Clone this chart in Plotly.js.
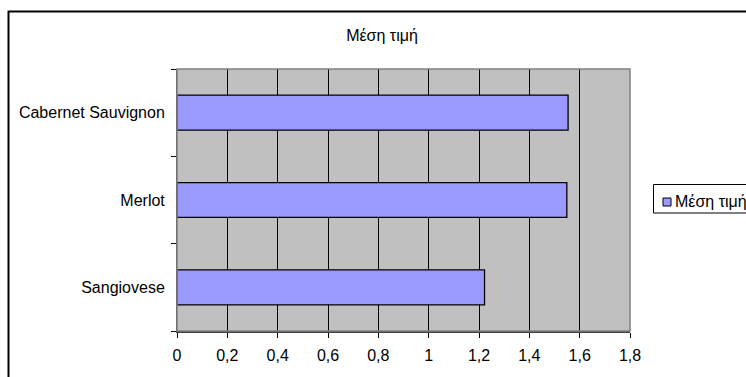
<!DOCTYPE html>
<html>
<head>
<meta charset="utf-8">
<script src="https://cdn.plot.ly/plotly-3.0.1.min.js"></script>
<style>html,body{margin:0;padding:0;background:#fff;}#chart{width:746px;height:377px;}</style>
</head>
<body>
<div id="chart"></div>
<script>
// Data (bottom-to-top order for horizontal bars)
const categories = ['Sangiovese', 'Merlot', 'Cabernet Sauvignon'];
const values = [1.222, 1.549, 1.554];
const seriesName = 'Μέση τιμή';
const chartTitle = 'Μέση τιμή';
const xTickVals = [0, 0.2, 0.4, 0.6, 0.8, 1, 1.2, 1.4, 1.6, 1.8];

const FONT = '"Liberation Sans", Arial, sans-serif';
const BAR_COLOR = '#9999FF';

const trace = {
  type: 'bar',
  orientation: 'h',
  y: categories,
  x: values,
  name: seriesName,
  showlegend: false,
  marker: { color: BAR_COLOR, line: { color: '#000000', width: 1.3 } },
  hoverinfo: 'x+y'
};

const L = 177, R = 630, T = 69, B = 331, W = 746, H = 377;
const pw = R - L, ph = B - T;
const px = v => (v - L) / pw;
const py = v => (B - v) / ph;

const layout = {
  width: W, height: H,
  margin: { l: L, r: W - R, t: T, b: H - B, autoexpand: false },
  paper_bgcolor: '#FFFFFF',
  plot_bgcolor: '#C0C0C0',
  separators: ',.',
  showlegend: false,
  font: { family: FONT, size: 16, color: '#000000' },
  title: {
    text: chartTitle,
    font: { family: FONT, size: 16, color: '#000000' },
    xref: 'container', yref: 'container',
    x: 382 / W, xanchor: 'center',
    y: 1 - 35 / H, yanchor: 'middle'
  },
  bargap: 0.6,
  xaxis: {
    range: [0, 1.8],
    tickvals: xTickVals,
    ticks: 'outside', ticklen: 5, tickcolor: '#000000', tickwidth: 1,
    showgrid: true, gridcolor: '#000000', gridwidth: 1,
    showline: true, linecolor: '#404040', linewidth: 2,
    zeroline: false,
    ticklabelstandoff: 4,
    tickfont: { family: FONT, size: 16, color: '#000000' },
    fixedrange: true
  },
  yaxis: {
    type: 'category',
    range: [-0.5, 2.5],
    tickson: 'boundaries',
    ticks: 'outside', ticklen: 5, tickcolor: '#000000', tickwidth: 1,
    showgrid: false,
    showline: true, linecolor: '#404040', linewidth: 1,
    zeroline: false,
    ticklabelstandoff: 8,
    tickfont: { family: FONT, size: 16, color: '#000000' },
    fixedrange: true
  },
  annotations: [
    { text: seriesName, xref: 'paper', yref: 'paper',
      x: px(672.5), xanchor: 'left', y: py(201), yanchor: 'middle',
      showarrow: false, font: { family: FONT, size: 16, color: '#000000' } }
  ],
  shapes: [
    // plot area frame (top/right edges gray)
    { type: 'rect', xref: 'paper', yref: 'paper', x0: 0, x1: 1, y0: 0, y1: 1,
      line: { color: '#808080', width: 1.5 }, fillcolor: 'rgba(0,0,0,0)', layer: 'above' },
    // outer chart border
    { type: 'rect', xref: 'paper', yref: 'paper',
      x0: px(8.5), x1: px(800), y0: py(420), y1: py(11.5),
      line: { color: '#000000', width: 2 }, fillcolor: 'rgba(0,0,0,0)', layer: 'below' },
    // legend box
    { type: 'rect', xref: 'paper', yref: 'paper',
      x0: px(653.5), x1: px(800), y0: py(213), y1: py(184.5),
      line: { color: '#000000', width: 1 }, fillcolor: '#FFFFFF', layer: 'below' },
    // legend key
    { type: 'rect', xref: 'paper', yref: 'paper',
      x0: px(663), x1: px(671), y0: py(206), y1: py(198),
      line: { color: '#000000', width: 1 }, fillcolor: BAR_COLOR, layer: 'above' }
  ]
};

Plotly.newPlot('chart', [trace], layout, { displayModeBar: false, staticPlot: true });
</script>
</body>
</html>
